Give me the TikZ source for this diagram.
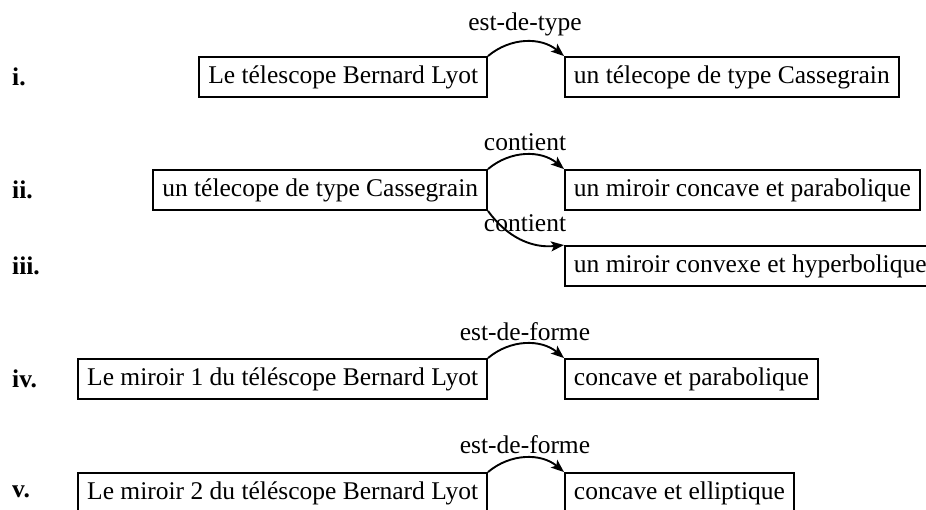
\documentclass[tikz,border=0pt]{standalone}
\usepackage{fontspec}
\setmainfont{Liberation Serif}
\usetikzlibrary{arrows.meta}
\begin{document}
\begin{tikzpicture}[x=1pt,y=-1pt,
  font=\fontsize{25.5}{30}\selectfont,
  box/.style={draw, line width=1.9pt, inner xsep=9pt, inner ysep=0pt, minimum height=40pt},
  num/.style={font=\fontsize{25.5}{30}\selectfont\bfseries, anchor=west, inner sep=0pt},
  rel/.style={-{Stealth[length=13pt,width=10pt,inset=3pt]}, line width=1.9pt},
  lab/.style={inner sep=0pt}]
\useasboundingbox (0,0) rectangle (926,510);

% row labels
\node[num] (n1) at (12,77) {i.};
\node[num] (n2) at (12,190) {ii.};
\node[num] (n3) at (12,266) {iii.};
\node[num] (n4) at (12,379) {iv.};
\node[num] (n5) at (12,492) {v.};

% boxes
\node[box, anchor=east] (s1) at (488,77) {Le télescope Bernard Lyot};
\node[box, anchor=west] (t1) at (564,77) {un télecope de type Cassegrain};

\node[box, anchor=east] (s2) at (488,190) {un télecope de type Cassegrain};
\node[box, anchor=west] (t2) at (564,190) {un miroir concave et parabolique};
\node[box, anchor=west] (t3) at (564,266) {un miroir convexe et hyperbolique};

\node[box, anchor=east] (s4) at (488,379) {Le miroir 1 du téléscope Bernard Lyot};
\node[box, anchor=west] (t4) at (564,379) {concave et parabolique};

\node[box, anchor=east] (s5) at (488,493) {Le miroir 2 du téléscope Bernard Lyot};
\node[box, anchor=west] (t5) at (564,493) {concave et elliptique};

% connectors
\draw[rel] (s1.north east) to[bend left=40] (t1.north west);
\draw[rel] (s2.north east) to[bend left=40] (t2.north west);
\draw[rel] (s2.south east) to[bend right=30] (t3.north west);
\draw[rel] (s4.north east) to[bend left=40] (t4.north west);
\draw[rel] (s5.north east) to[bend left=40] (t5.north west);

% connector labels
\node[lab] (l1) at (525,24) {est-de-type};
\node[lab] (l2) at (525,142) {contient};
\node[lab] (l3) at (525,223) {contient};
\node[lab] (l4) at (525,332) {est-de-forme};
\node[lab] (l5) at (525,445) {est-de-forme};
\end{tikzpicture}
\end{document}
